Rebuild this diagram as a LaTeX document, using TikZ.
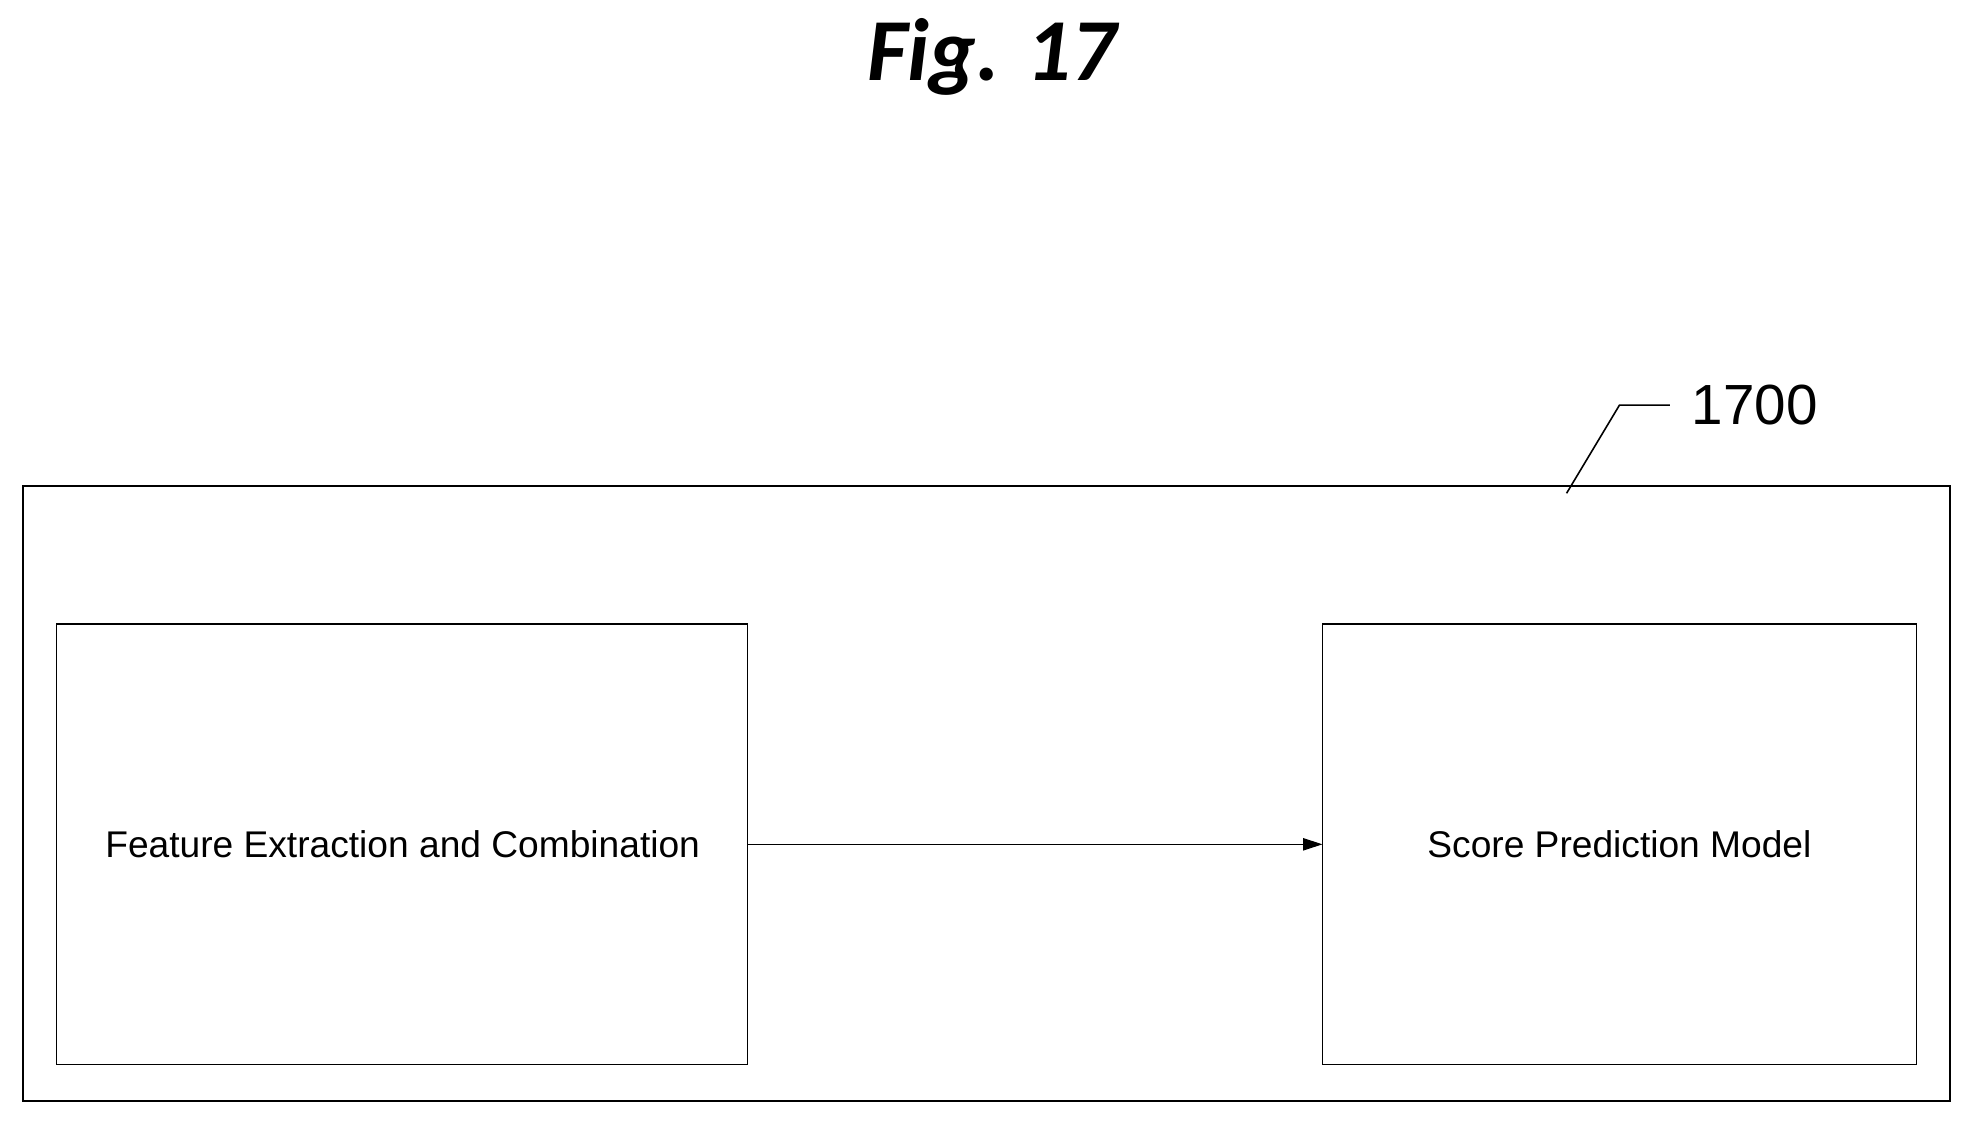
\documentclass[tikz,border=0pt]{standalone}
\usepackage{fontspec}
\setmainfont{Liberation Sans}
\newfontfamily\carl{Carlito}
\usetikzlibrary{arrows.meta}
\begin{document}
\begin{tikzpicture}[x=0.5mm,y=-0.5mm,
  box/.style={draw,line width=1.6pt,minimum width=0pt},
  lbl/.style={font=\fontsize{42}{48}\selectfont},
  conn/.style={line width=1.2pt,-{Triangle[length=22pt,width=14pt]}}]
\useasboundingbox (0,0) rectangle (1568,892);
\node[font=\carl\bfseries\itshape\fontsize{100}{110}\selectfont] (title) at (788,45) {Fig. 17};
\draw[line width=2pt] (18,386) rectangle (1550,875);
\coordinate (o) at (1245,392);
\coordinate (k) at (1287,322);
\coordinate (e) at (1327,322);
\draw[line width=1.8pt] (o) -- (k) -- (e);
\node[anchor=west,font=\fontsize{64}{70}\selectfont] (num) at (1342,322) {1700};
\draw[box] (45,496) rectangle (594,846);
\node[lbl] (fe) at (320,671) {Feature Extraction and Combination};
\draw[box] (1051,496) rectangle (1523,846);
\node[lbl] (sp) at (1287,671) {Score Prediction Model};
\coordinate (a) at (594,671);
\coordinate (b) at (1051,671);
\draw[conn] (a) -- (b);
\end{tikzpicture}
\end{document}
